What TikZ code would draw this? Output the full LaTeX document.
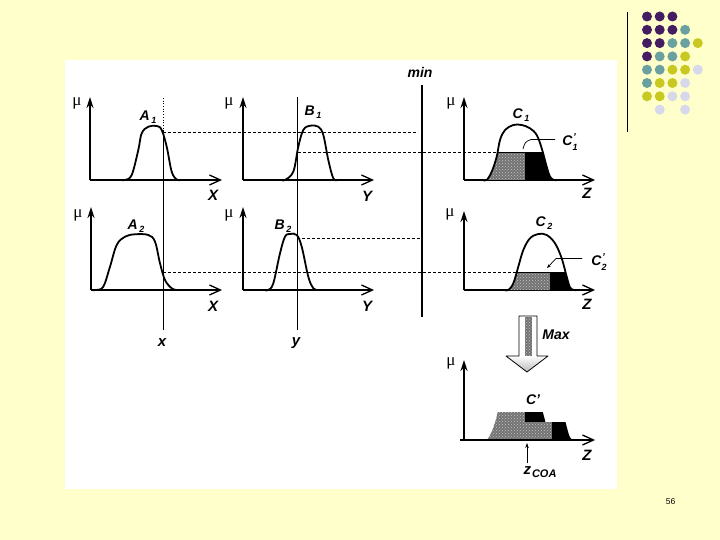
\documentclass[tikz,border=0pt]{standalone}
\usepackage{fontspec}
\setsansfont{Liberation Sans}
\newfontfamily\muf{Liberation Serif}
\usetikzlibrary{arrows.meta,patterns}
\definecolor{bg}{RGB}{255,255,204}
\definecolor{dpur}{RGB}{68,28,98}
\definecolor{dteal}{RGB}{106,160,160}
\definecolor{dyel}{RGB}{200,200,32}
\definecolor{dlav}{RGB}{216,216,236}
\definecolor{speck}{RGB}{115,115,115}
\newcommand\sbs[1]{\hspace{1.5pt}\raisebox{-3pt}{\fontsize{9}{9}\selectfont #1}}
\newcommand\prsb[1]{\makebox[0pt][l]{\hspace{0.5pt}\raisebox{5.5pt}{\fontsize{10}{10}\selectfont '}}\raisebox{-4.5pt}{\fontsize{9}{9}\selectfont #1}}
\def\Aone{plot[smooth,tension=0.6] coordinates {(122,180) (125,180) (131.7,175) (138.3,150) (141.7,133.3) (148.3,126.7) (156.7,126) (161.7,130) (166.7,146.7) (171.7,171.7) (176.7,179.5) (180,180)}}
\def\Bone{plot[smooth,tension=0.6] coordinates {(282,180) (285,180) (293.3,171.7) (298.3,146.7) (303.3,130) (310,125.7) (318.3,126.7) (323.3,135) (328.3,160) (333.3,178.3) (338,180) (341,180)}}
\def\Atwo{plot[smooth,tension=0.6] coordinates {(93,290) (96,290) (103.3,286.7) (110,266.7) (116.7,245) (125,236.7) (135,234.3) (148.3,235) (155,241.7) (160,263.3) (165,280) (171.7,288.3) (176.7,290) (180,290)}}
\def\Btwo{plot[smooth,tension=0.6] coordinates {(265,290) (268.3,290) (273.3,283.3) (280,253.3) (285,236.7) (290,234) (296.7,235) (301.7,246.7) (308.3,276.7) (313.3,288.3) (318.3,290) (321,290)}}
\def\Cone{plot[smooth,tension=0.6] coordinates {(483,180) (486.7,180) (491.7,171.7) (496.7,156.7) (500,140) (505,130) (513.3,125) (521.7,125) (530,128.3) (536.7,135) (541.7,148.3) (546.7,166.7) (550,176.7) (554,180) (557,180)}}
\def\Ctwo{plot[smooth,tension=0.6] coordinates {(505,290) (508.3,290) (513.3,283.3) (518.3,266.7) (523.3,250) (530,238.3) (538.3,234) (546.7,235) (555,243.3) (561.7,258.3) (566.7,276.7) (570,287.3) (574,290) (577,290)}}
\tikzset{
  axx/.style={line width=1.6pt, -{Straight Barb[length=11pt,width=10pt,line width=1.3pt]}},
  axy/.style={line width=1.6pt, -{Stealth[length=11pt,width=7pt]}},
  mf/.style={line width=1.8pt, line join=round},
  dline/.style={line width=0.6pt, dash pattern=on 3pt off 2pt},
  lab/.style={font=\sffamily\bfseries\itshape\fontsize{14}{14}\selectfont, inner sep=0pt},
  big/.style={font=\sffamily\bfseries\itshape\fontsize{15}{15}\selectfont, inner sep=0pt},
  mul/.style={font=\muf\fontsize{17}{17}\selectfont, inner sep=0pt},
  gfill/.style={fill=speck, postaction={pattern=crosshatch dots, pattern color=gray!45}},
  dot/.style={circle, inner sep=0pt, minimum size=10pt}
}
\begin{document}
\begin{tikzpicture}[x=1pt,y=-1pt]
\useasboundingbox (0,0) rectangle (720,540);
\fill[bg] (0,0) rectangle (720,540);
\fill[white] (65,60) rectangle (617,489);
% decoration dots
\draw[line width=0.8pt] (627,12) -- (627,132);
\foreach \r/\lst in {0/{1/dpur,2/dpur,3/dpur},1/{1/dpur,2/dpur,3/dpur,4/dteal},2/{1/dpur,2/dpur,3/dteal,4/dteal,5/dyel},3/{1/dpur,2/dteal,3/dteal,4/dyel},4/{1/dteal,2/dteal,3/dyel,4/dyel,5/dlav},5/{1/dteal,2/dyel,3/dyel,4/dlav},6/{1/dyel,2/dyel,3/dlav,4/dlav},7/{2/dlav,4/dlav}}{
  \foreach \c/\col in \lst {
    \node[dot, fill=\col] (d\r\c) at ({634.3+12.7*\c},{16.5+13.3*\r}) {};
  }
}
% ---- dashed / reference lines
\draw[dline] (163,132) -- (418,132);
\draw[dline] (298,152.7) -- (498,152.7);
\draw[dline] (297,238) -- (422,238);
\draw[dline] (163,272) -- (517,272);
\draw[line width=0.7pt, dotted] (163,98) -- (163,131);
\draw[line width=0.9pt] (163,131) coordinate (xtop) -- (163,330) coordinate (xbot);
\draw[line width=0.9pt] (297,97) coordinate (ytop) -- (297,330) coordinate (ybot);
\draw[line width=1.3pt] (422,85) coordinate (mtop) -- (422,317) coordinate (mbot);
% ---- axes
\coordinate (oA1) at (90,180); \coordinate (oB1) at (243,180); \coordinate (oC1) at (464,180);
\coordinate (oA2) at (91,290); \coordinate (oB2) at (243,290); \coordinate (oC2) at (464,290);
\coordinate (oC3) at (464,440);
\foreach \o/\h/\w in {oA1/83/132, oB1/83/131, oC1/83/131, oA2/83/131, oB2/83/131, oC2/79/131, oC3/80/131}{
  \draw[axy] (\o) -- ++(0,-\h);
  \draw[axx] (\o) -- ++(\w,0);
}
% ---- input membership functions
\draw[mf] \Aone; \draw[mf] \Bone; \draw[mf] \Atwo; \draw[mf] \Btwo;
% ---- C1 clipped
\begin{scope}
  \clip (470,152.7) rectangle (525,181);
  \fill[gfill] \Cone -- cycle;
\end{scope}
\begin{scope}
  \clip (525,152.7) rectangle (570,181);
  \fill[black] \Cone -- cycle;
\end{scope}
\draw[line width=0.9pt] (498,152.7) -- (542.5,152.7);
\draw[mf] \Cone;
% ---- C2 clipped
\begin{scope}
  \clip (490,272) rectangle (550,291);
  \fill[gfill] \Ctwo -- cycle;
\end{scope}
\begin{scope}
  \clip (550,272) rectangle (590,291);
  \fill[black] \Ctwo -- cycle;
\end{scope}
\draw[line width=0.9pt] (517,272) -- (565,272);
\draw[mf] \Ctwo;
% ---- aggregated C'
\begin{scope}[shift={(0,260)}]
  \begin{scope}
    \clip (470,152.7) rectangle (525,181);
    \fill[gfill] \Cone -- cycle;
  \end{scope}
  \begin{scope}
    \clip (525,152.7) rectangle (570,181);
    \fill[black] \Cone -- cycle;
  \end{scope}
\end{scope}
\begin{scope}[shift={(0,150)}]
  \begin{scope}
    \clip (490,272) rectangle (552,291);
    \fill[gfill] \Ctwo -- cycle;
  \end{scope}
  \begin{scope}
    \clip (552,272) rectangle (590,291);
    \fill[black] \Ctwo -- cycle;
  \end{scope}
\end{scope}
\draw[line width=1.6pt] (460,440) -- (590,440);
% ---- Max arrow
\fill[white] (519,316) -- (537,316) -- (537,356) -- (548,356) -- (527,372) -- (506,356) -- (519,356) -- cycle;
\fill[gfill] (525,317) rectangle (532,356);
\shade[top color=white, bottom color=gray!55] (506,356) -- (548,356) -- (527,372) -- cycle;
\draw[line width=0.8pt, line join=round] (519,316) -- (537,316) -- (537,356) -- (548,356) -- (527,372) -- (506,356) -- (519,356) -- cycle;
% ---- leaders
\draw[line width=0.7pt] (523,149) .. controls (525,142) .. (531,139.5) -- (555,139.5);
\draw[line width=0.7pt, -{Stealth[length=4pt,width=3pt]}] (582,258.5) -- (556,258.5) -- (547,268);
\draw[line width=0.7pt, -{Stealth[length=5pt,width=3.5pt]}] (527,463) -- (527,443);
% ---- labels
\node[lab] (lA1) at (148,117) {A\sbs{1}};
\node[lab] (lB1) at (313,112) {B\sbs{1}};
\node[lab] (lA2) at (136,226) {A\sbs{2}};
\node[lab] (lB2) at (283,226) {B\sbs{2}};
\node[lab] (lC1) at (521,115) {C\sbs{1}};
\node[lab] (lC1p) at (570,142) {C\prsb{1}};
\node[lab] (lC2) at (544,223) {C\sbs{2}};
\node[lab] (lC2p) at (599,262) {C\prsb{2}};
\node[lab] (lCp) at (533,400) {C'};
\node[lab] (lmin) at (420,72) {min};
\node[lab] (lmax) at (556,335) {Max};
\node[big] (lX1) at (213,195) {X};
\node[big] (lX2) at (213,306) {X};
\node[big] (lY1) at (367,196) {Y};
\node[big] (lY2) at (367,306) {Y};
\node[big] (lZ1) at (587,193) {Z};
\node[big] (lZ2) at (587,304) {Z};
\node[big] (lZ3) at (587,455) {Z};
\node[big] (lx) at (162,343) {x};
\node[big] (ly) at (296,343) {y};
\node[lab] (lzcoa) at (540,472) {\fontsize{15}{15}\selectfont z\hspace{1pt}\raisebox{-3pt}{\fontsize{11}{11}\selectfont COA}};
\node[mul] (m1) at (77,103) {μ};
\node[mul] (m2) at (229,103) {μ};
\node[mul] (m3) at (451,103) {μ};
\node[mul] (m4) at (78,215) {μ};
\node[mul] (m5) at (229,215) {μ};
\node[mul] (m6) at (450,214) {μ};
\node[mul] (m7) at (451,363) {μ};
\node[font=\sffamily\fontsize{8.5}{8.5}\selectfont, inner sep=0pt] (pg) at (670.5,502) {56};
\end{tikzpicture}
\end{document}
